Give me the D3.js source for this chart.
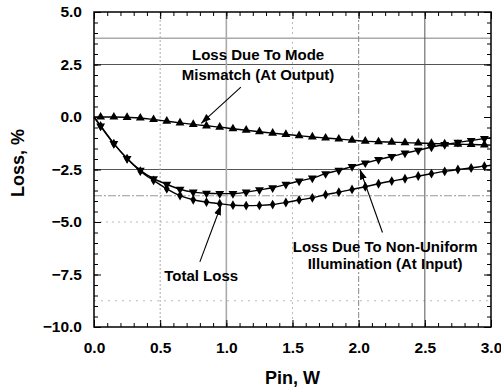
<!DOCTYPE html>
<html><head><meta charset="utf-8">
<script src="https://cdn.jsdelivr.net/npm/d3@7"></script>
<style>
body{margin:0;background:#fff;}
svg text{font-family:"Liberation Sans",Arial,Helvetica,sans-serif;font-weight:bold;fill:#000;}
</style></head>
<body><svg id="c" width="501" height="389"></svg>
<script>
// ---- data ----
const pin = [0.05,0.15,0.25,0.35,0.45,0.55,0.65,0.75,0.85,0.95,
             1.05,1.15,1.25,1.35,1.45,1.55,1.65,1.75,1.85,1.95,
             2.05,2.15,2.25,2.35,2.45,2.55,2.65,2.75,2.85,2.95];
const startX = 0, endX = 3.0;
const modeMismatch = [0.0,0.0,-0.02,-0.05,-0.12,-0.2,-0.28,-0.35,-0.42,-0.48,
                      -0.56,-0.63,-0.7,-0.77,-0.83,-0.89,-0.95,-1.0,-1.05,-1.1,
                      -1.15,-1.18,-1.2,-1.22,-1.24,-1.26,-1.28,-1.3,-1.31,-1.33];
const modeEnds = [0, -1.34];
const nonUniform = [-0.43,-1.27,-1.98,-2.54,-2.94,-3.21,-3.44,-3.58,-3.63,-3.65,
                    -3.65,-3.58,-3.47,-3.37,-3.21,-3.05,-2.91,-2.7,-2.54,-2.36,
                    -2.19,-2.03,-1.88,-1.72,-1.59,-1.43,-1.31,-1.21,-1.12,-1.03];
const nonUniformEnds = [0, -0.98];
const totalLoss = [-0.43,-1.27,-1.98,-2.58,-3.02,-3.42,-3.74,-3.94,-4.05,-4.13,
                   -4.2,-4.22,-4.21,-4.17,-4.07,-3.95,-3.85,-3.7,-3.58,-3.45,
                   -3.32,-3.18,-3.05,-2.94,-2.81,-2.7,-2.59,-2.5,-2.43,-2.34];
const totalEnds = [0, -2.3];
const xTicks = [0,0.5,1.0,1.5,2.0,2.5,3.0];
const yTicks = [5,2.5,0,-2.5,-5,-7.5,-10];
const xLabel = "Pin, W", yLabel = "Loss, %";
const notes = [
  {lines:["Loss Due To Mode","Mismatch (At Output)"], x:1.24, y:[2.7,1.75], from:[1.11,1.42], to:[0.81,-0.3]},
  {lines:["Total Loss"], x:0.81, y:[-7.8], from:[0.80,-6.9], to:[0.96,-4.2]},
  {lines:["Loss Due To Non-Uniform","Illumination (At Input)"], x:2.2, y:[-6.45,-7.25], from:[2.18,-5.5], to:[2.01,-2.5]}
];

// ---- layout ----
const L=94, R=491, T=12, B=327;
const x = d3.scaleLinear().domain([0,3]).range([L,R]);
const y = d3.scaleLinear().domain([-10,5]).range([B,T]);
const svg = d3.select("#c");

// grid lines (scanned look)
const hGrid = [{v:3.75,c:"#aaa",w:1.3,d:null},{v:2.5,c:"#555",w:1,d:null},{v:-2.5,c:"#555",w:1,d:null},
               {v:-3.75,c:"#999",w:1,d:"8,2,2,2"},{v:-5,c:"#bbb",w:1,d:"2,4"},{v:-8.75,c:"#bbb",w:1,d:"2,5"}];
const vGrid = [{v:0.5,c:"#aaa",w:1,d:"2,2"},{v:1.0,c:"#aaa",w:1.6,d:null},{v:1.5,c:"#bbb",w:1,d:"2,3"},
               {v:2.0,c:"#888",w:1,d:"6,2,2,2"},{v:2.5,c:"#555",w:1,d:null}];
svg.append("g").selectAll("line").data(hGrid).join("line")
  .attr("x1",L).attr("x2",R).attr("y1",d=>y(d.v)).attr("y2",d=>y(d.v))
  .attr("stroke",d=>d.c).attr("stroke-width",d=>d.w).attr("stroke-dasharray",d=>d.d);
svg.append("g").selectAll("line").data(vGrid).join("line")
  .attr("y1",T).attr("y2",B).attr("x1",d=>x(d.v)).attr("x2",d=>x(d.v))
  .attr("stroke",d=>d.c).attr("stroke-width",d=>d.w).attr("stroke-dasharray",d=>d.d);

// axes with inward ticks
function ticksAxis(axisGen, transform){
  const g = svg.append("g").attr("transform",transform).call(axisGen);
  g.select(".domain").remove();
  g.selectAll("line").attr("stroke","#000").attr("stroke-width",1);
  return g;
}
const xMinor = d3.range(0,3.0001,0.1), yMinor = d3.range(-10,5.0001,0.5);
ticksAxis(d3.axisBottom(x).tickValues(xMinor).tickSize(-4).tickFormat(""),`translate(0,${B})`);
ticksAxis(d3.axisTop(x).tickValues(xMinor).tickSize(-4).tickFormat(""),`translate(0,${T})`);
ticksAxis(d3.axisLeft(y).tickValues(yMinor).tickSize(-4).tickFormat(""),`translate(${L},0)`);
ticksAxis(d3.axisRight(y).tickValues(yMinor).tickSize(-4).tickFormat(""),`translate(${R},0)`);
const gx = ticksAxis(d3.axisBottom(x).tickValues(xTicks).tickSize(-7).tickPadding(15).tickFormat(d3.format(".1f")),`translate(0,${B})`);
gx.selectAll("text").attr("font-size",15.5).style("font-weight","bold");
ticksAxis(d3.axisTop(x).tickValues(xTicks).tickSize(-7).tickFormat(""),`translate(0,${T})`);
const gy = ticksAxis(d3.axisLeft(y).tickValues(yTicks).tickSize(-7).tickPadding(12).tickFormat(d3.format(".1f")),`translate(${L},0)`);
gy.selectAll("text").attr("font-size",15.5).style("font-weight","bold");
ticksAxis(d3.axisRight(y).tickValues(yTicks).tickSize(-7).tickFormat(""),`translate(${R},0)`);
svg.selectAll(".tick text").attr("font-family","Liberation Sans, Arial, sans-serif");

// frame
svg.append("rect").attr("x",L).attr("y",T).attr("width",R-L).attr("height",B-T)
  .attr("fill","none").attr("stroke","#000").attr("stroke-width",1.5);

// series
const series = [
  {vals:modeMismatch, ends:modeEnds, sym:d3.symbolTriangle, rot:0},
  {vals:nonUniform, ends:nonUniformEnds, sym:d3.symbolTriangle, rot:180},
  {vals:totalLoss, ends:totalEnds, sym:d3.symbolDiamond, rot:0}
];
const line = d3.line().x(d=>x(d[0])).y(d=>y(d[1])).curve(d3.curveMonotoneX);
series.forEach(s=>{
  const pts = [[startX,s.ends[0]]].concat(pin.map((p,i)=>[p,s.vals[i]])).concat([[endX,s.ends[1]]]);
  svg.append("path").attr("d",line(pts)).attr("fill","none").attr("stroke","#000").attr("stroke-width",1.4);
  svg.append("g").selectAll("path").data(pin.map((p,i)=>[p,s.vals[i]])).join("path")
    .attr("d",d3.symbol().type(s.sym).size(s.sym===d3.symbolDiamond?28:34))
    .attr("transform",d=>`translate(${x(d[0])},${y(d[1])}) rotate(${s.rot})`)
    .attr("fill","#000");
});

// annotations
svg.append("defs").append("marker").attr("id","ah").attr("viewBox","0 0 10 10")
  .attr("refX",10).attr("refY",5).attr("markerWidth",10).attr("markerHeight",10)
  .attr("markerUnits","userSpaceOnUse").attr("orient","auto")
  .append("path").attr("d","M0,1.5 L10,5 L0,8.5 Z").attr("fill","#000");
notes.forEach(n=>{
  n.lines.forEach((t,i)=>{
    svg.append("text").attr("x",x(n.x)).attr("y",y(n.y[i])).attr("text-anchor","middle")
      .attr("font-size",15).text(t);
  });
  svg.append("line").attr("x1",x(n.from[0])).attr("y1",y(n.from[1]))
    .attr("x2",x(n.to[0])).attr("y2",y(n.to[1]))
    .attr("stroke","#000").attr("stroke-width",1.1).attr("marker-end","url(#ah)");
});

// axis titles
svg.append("text").attr("x",(L+R)/2).attr("y",384).attr("text-anchor","middle")
  .attr("font-size",18).text(xLabel);
svg.append("text").attr("transform",`translate(24,${163}) rotate(-90)`).attr("text-anchor","middle")
  .attr("font-size",18).text(yLabel);
</script></body></html>
